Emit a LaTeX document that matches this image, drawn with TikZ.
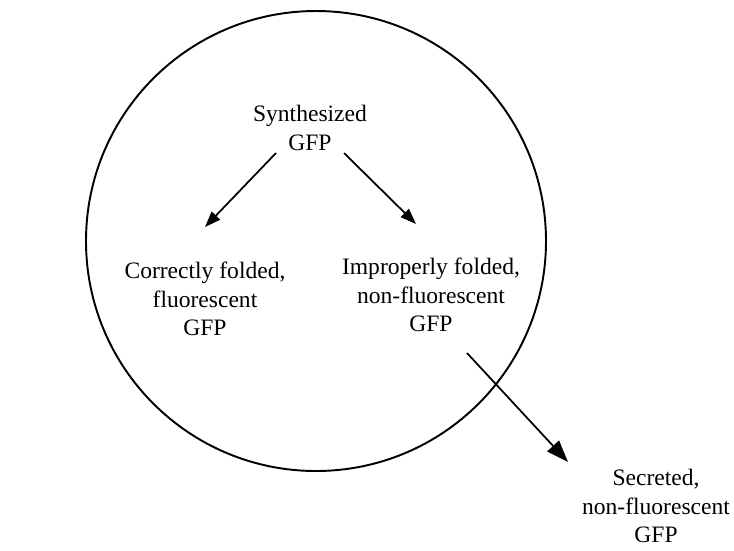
\documentclass[tikz,border=0pt]{standalone}
\usepackage{fontspec}
\setmainfont{Liberation Serif}
\usetikzlibrary{arrows.meta}

\tikzset{
    txt/.style={align=center, inner sep=0pt,
      font=\fontsize{13.4}{16.3}\selectfont},
    flow/.style={line width=1pt, -{Triangle[length=9pt,width=6.5pt]}},
    bigflow/.style={line width=1pt, -{Triangle[length=12.5pt,width=9pt]}}
  }

\begin{document}
\begin{tikzpicture}[x=0.2mm,y=-0.2mm]
    \useasboundingbox (0,0) rectangle (734,550);

    % cell
    \draw[line width=1.1pt] (316,241) circle[radius=46mm];

    \node[txt] (synth) at (310,128) {Synthesized\\GFP};
    \node[txt] (correct) at (205,299) {Correctly folded,\\fluorescent\\GFP};
    \node[txt] (improper) at (431,295) {Improperly folded,\\non-fluorescent\\GFP};
    \node[txt] (secreted) at (656,506) {Secreted,\\non-fluorescent\\GFP};

    \coordinate (synthL) at (276,153);
    \coordinate (synthR) at (344,153);
    \coordinate (correctT) at (205,227);
    \coordinate (improperT) at (416,224);
    \coordinate (improperB) at (467,353);
    \coordinate (secretedT) at (568,462);

    \draw[flow] (synthL) -- (correctT);
    \draw[flow] (synthR) -- (improperT);
    \draw[bigflow] (improperB) -- (secretedT);
\end{tikzpicture}
\end{document}
